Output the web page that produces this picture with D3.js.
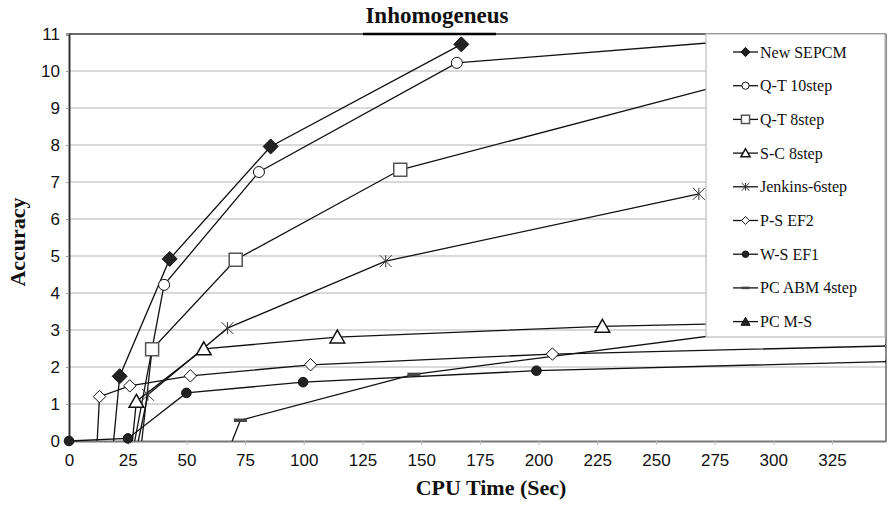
<!DOCTYPE html>
<html>
<head>
<meta charset="utf-8">
<script src="https://cdn.jsdelivr.net/npm/d3@7"></script>
<style>
  body { margin: 0; background: #fff; }
  svg text { fill: #111; }
</style>
</head>
<body>
<div class="chart-wrapper"></div>
<script>
// values, [cpu seconds, accuracy]
const newSepcm = [[19, 0], [21.6, 1.75], [42.9, 4.92], [85.9, 7.96], [167.1, 10.72]];
const qt10 = [[28, 0], [40.5, 4.22], [80.9, 7.27], [165.2, 10.22], [330, 11.05]];
const qt8 = [[31, 0], [35.4, 2.48], [71, 4.9], [141.1, 7.33], [330, 10.48]];
const sc8 = [[27, 0], [28.7, 1.07], [57.4, 2.49], [114.3, 2.81], [227.2, 3.1], [330, 3.24]];
const jenkins6 = [[29.5, 0], [33.6, 1.25], [67.5, 3.05], [134.9, 4.86], [268.3, 6.68]];
const psEf2 = [[12, 0], [13, 1.2], [25.9, 1.49], [51.7, 1.76], [102.9, 2.06], [205.9, 2.35], [350, 2.57]];
const wsEf1 = [[0, 0], [25.1, 0.07], [50, 1.3], [99.7, 1.59], [199.1, 1.9], [350, 2.15]];
const abm4 = [[69.5, 0], [73, 0.56], [146.9, 1.8], [300, 3.06]];
const pcMs = [];

const seriesNames = ['New SEPCM', 'Q-T 10step', 'Q-T 8step', 'S-C 8step', 'Jenkins-6step', 'P-S EF2', 'W-S EF1', 'PC ABM 4step', 'PC M-S'];
const seriesValues = [newSepcm, qt10, qt8, sc8, jenkins6, psEf2, wsEf1, abm4, pcMs];
const seriesMarkers = ['diamondFill', 'circle', 'square', 'triangle', 'star', 'diamond', 'circleFill', 'dash', 'triangleFill'];

const xTicks = d3.range(0, 326, 25);
const yTicks = d3.range(0, 12);

const width = 888;
const height = 505;
const margin = {left: 69, right: 2, top: 34, bottom: 64};

const x = d3.scaleLinear().domain([0, 348]).range([margin.left, width - margin.right]);
const y = d3.scaleLinear().domain([0, 11]).range([height - margin.bottom, margin.top]);

const svg = d3.select('.chart-wrapper')
  .append('svg')
  .attr('width', width)
  .attr('height', height);

// gridlines
svg.append('g')
  .selectAll('line')
  .data(yTicks.filter(d => d > 0))
  .enter()
  .append('line')
  .attr('x1', x(0)).attr('x2', x(348))
  .attr('y1', d => y(d)).attr('y2', d => y(d))
  .attr('stroke', '#b4b4b4')
  .attr('stroke-width', 1.2);

// y axis
const yAxis = svg.append('g')
  .attr('transform', `translate(${x(0)},0)`)
  .call(d3.axisLeft(y).tickValues(yTicks).tickSize(3).tickPadding(6).tickFormat(d3.format('d')));
yAxis.select('.domain').attr('stroke', '#333').attr('stroke-width', 2);
yAxis.selectAll('.tick line').attr('stroke', '#999');
yAxis.selectAll('text')
  .attr('font-family', 'Liberation Sans, Arial, sans-serif')
  .attr('font-size', 17)
  .attr('fill', '#111');

// x axis
const xAxis = svg.append('g')
  .attr('transform', `translate(0,${y(0)})`)
  .call(d3.axisBottom(x).tickValues(xTicks).tickSize(4).tickPadding(9).tickSizeOuter(0));
xAxis.select('.domain').attr('stroke', '#777').attr('stroke-width', 2);
xAxis.selectAll('.tick line').attr('stroke', '#bbb');
xAxis.selectAll('text')
  .attr('font-family', 'Liberation Sans, Arial, sans-serif')
  .attr('font-size', 17)
  .attr('fill', '#111');

// top and right frame
svg.append('line')
  .attr('x1', x(0)).attr('x2', x(348))
  .attr('y1', y(11)).attr('y2', y(11))
  .attr('stroke', '#444').attr('stroke-width', 1.5);
svg.append('line')
  .attr('x1', 363).attr('x2', 496)
  .attr('y1', y(11)).attr('y2', y(11))
  .attr('stroke', '#000').attr('stroke-width', 2.5);
svg.append('line')
  .attr('x1', x(348)).attr('x2', x(348))
  .attr('y1', y(11)).attr('y2', y(0))
  .attr('stroke', '#666').attr('stroke-width', 1.5);

svg.append('clipPath')
  .attr('id', 'plot-clip')
  .append('rect')
  .attr('x', x(0) - 10).attr('y', y(11))
  .attr('width', x(348) - x(0) + 10).attr('height', y(0) - y(11) + 10);

const markerPath = (type, s) => {
  if(type.startsWith('diamond')) return `M0,${-s}L${s},0L0,${s}L${-s},0Z`;
  if(type.startsWith('square')) return `M${-s},${-s}H${s}V${s}H${-s}Z`;
  if(type.startsWith('triangle')) return `M0,${-s}L${s * 1.05},${s * 0.85}L${-s * 1.05},${s * 0.85}Z`;
  if(type === 'star') return `M${-s},${-s}L${s},${s}M${-s},${s}L${s},${-s}M0,${-s}V${s}`;
  if(type === 'dash') return `M${-s},0H${s}`;
  return null;
};

const drawMarker = (g, type, cx, cy, big) => {
  const k = big ? 1 : 0.55;
  if(type === 'circle' || type === 'circleFill') {
    g.append('circle')
      .attr('cx', cx).attr('cy', cy)
      .attr('r', (type === 'circle' ? 5.5 : 4.8) * k + (big ? 0 : 0.6))
      .attr('fill', type === 'circle' ? '#fff' : '#222')
      .attr('stroke', '#111')
      .attr('stroke-width', 1);
    return;
  }
  const sizes = {diamondFill: 7.5, diamond: 6.2, square: 6.5, triangle: 7, triangleFill: 7, star: 6, dash: 6.5};
  const p = g.append('path')
    .attr('transform', `translate(${cx},${cy})`)
    .attr('d', markerPath(type, sizes[type] * k + (big ? 0 : 0.5)));
  if(type === 'diamondFill' || type === 'triangleFill') p.attr('fill', '#222').attr('stroke', '#111').attr('stroke-width', 1);
  else if(type === 'dash') p.attr('fill', 'none').attr('stroke', '#444').attr('stroke-width', big ? 3.5 : 2.5);
  else if(type === 'star') p.attr('fill', 'none').attr('stroke', '#333').attr('stroke-width', 1);
  else if(type === 'square') p.attr('fill', '#fff').attr('stroke', '#555').attr('stroke-width', 1.5);
  else if(type === 'triangle') p.attr('fill', '#fff').attr('stroke', '#111').attr('stroke-width', 1.5);
  else p.attr('fill', '#fff').attr('stroke', '#111').attr('stroke-width', 1);
};

const line = d3.line().x(d => x(d[0])).y(d => y(d[1]));

const plot = svg.append('g').attr('clip-path', 'url(#plot-clip)');

seriesValues.forEach((values, i) => {
  plot.append('path')
    .datum(values)
    .attr('d', line)
    .attr('fill', 'none')
    .attr('stroke', '#111')
    .attr('stroke-width', 1.3);
});

seriesValues.forEach((values, i) => {
  const mg = plot.append('g');
  values.forEach(d => {
    // points sitting on the axis show no marker, except the W-S EF1 ones
    if(d[1] === 0 && seriesNames[i] !== 'W-S EF1') return;
    drawMarker(mg, seriesMarkers[i], x(d[0]), y(d[1]), true);
  });
});

// legend
const legend = svg.append('g');
legend.append('rect')
  .attr('x', 706).attr('y', 34)
  .attr('width', 179).attr('height', 303)
  .attr('fill', '#fff')
  .attr('stroke', '#bbb')
  .attr('stroke-width', 1.2);

seriesNames.forEach((name, i) => {
  const cy = 52 + i * 33.7;
  legend.append('line')
    .attr('x1', 733).attr('x2', 758)
    .attr('y1', cy).attr('y2', cy)
    .attr('stroke', '#111').attr('stroke-width', 1.3);
  drawMarker(legend, seriesMarkers[i], 745.5, cy, false);
  legend.append('text')
    .attr('x', 760).attr('y', cy + 5.5)
    .attr('font-family', 'Liberation Serif, Times New Roman, serif')
    .attr('font-size', 16)
    .text(name);
});

// titles
svg.append('text')
  .attr('x', 437).attr('y', 23)
  .attr('text-anchor', 'middle')
  .attr('font-family', 'Liberation Serif, Times New Roman, serif')
  .attr('font-weight', 'bold')
  .attr('font-size', 23)
  .text('Inhomogeneus');

svg.append('text')
  .attr('x', 491).attr('y', 495)
  .attr('text-anchor', 'middle')
  .attr('font-family', 'Liberation Serif, Times New Roman, serif')
  .attr('font-weight', 'bold')
  .attr('font-size', 22)
  .text('CPU Time (Sec)');

svg.append('text')
  .attr('transform', 'translate(25,242) rotate(-90)')
  .attr('text-anchor', 'middle')
  .attr('font-family', 'Liberation Serif, Times New Roman, serif')
  .attr('font-weight', 'bold')
  .attr('font-size', 22)
  .text('Accuracy');
</script>
</body>
</html>
